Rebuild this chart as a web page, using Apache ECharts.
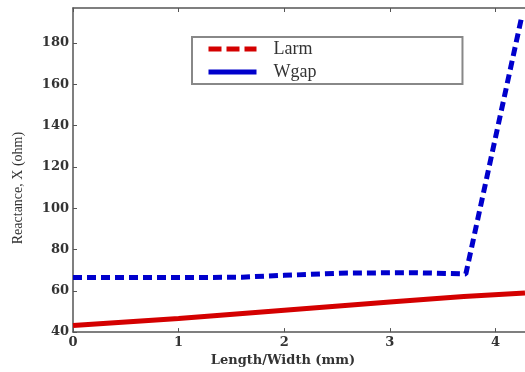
<!DOCTYPE html>
<html>
<head>
<meta charset="utf-8">
<script src="https://cdn.jsdelivr.net/npm/echarts@6/dist/echarts.min.js"></script>
<style>
  html, body { margin: 0; padding: 0; background: #fff; }
  #chart { width: 525px; height: 372px; }
</style>
</head>
<body>
<div id="chart"></div>
<script>
// Larm: red solid line, Wgap: blue dashed line  [length/width (mm), reactance (ohm)]
const larmData = [[0, 43.2], [1, 46.6], [2, 50.6], [3, 54.6], [3.7, 57.2], [4.28, 59]];
const wgapData = [[0, 66.4], [1, 66.4], [1.6, 66.6], [2, 67.5], [2.6, 68.6], [3.2, 68.8], [3.72, 68.2], [4.25, 193]];
const xTicks = [0, 1, 2, 3, 4];
const yTicks = [40, 60, 80, 100, 120, 140, 160, 180];

const chart = echarts.init(document.getElementById('chart'));
const serif = 'Liberation Serif';
const wideSerif = 'DejaVu Serif';
const axisColor = '#555';

const option = {
  animation: false,
  backgroundColor: '#fff',
  grid: { left: 73, right: 0, top: 8, bottom: 36 },
  legend: {
    orient: 'vertical',
    left: 192,
    top: 37,
    itemWidth: 48,
    itemHeight: 12,
    itemGap: 5,
    padding: [3, 146, 3, 14],
    borderColor: '#888',
    borderWidth: 2,
    backgroundColor: '#fff',
    textStyle: { fontFamily: serif, fontSize: 18, color: '#333', padding: [0, 0, 0, 12] },
    data: [
      { name: 'Larm', lineStyle: { color: '#d40000', type: [13, 5], width: 5 }, itemStyle: { opacity: 0 } },
      { name: 'Wgap', lineStyle: { color: '#0000cc', type: 'solid', width: 5 }, itemStyle: { opacity: 0 } }
    ]
  },
  xAxis: [
    {
      type: 'value',
      min: 0,
      max: 4.28,
      interval: 1,
      name: 'Length/Width (mm)',
      nameLocation: 'middle',
      nameGap: 20,
      nameTextStyle: { fontFamily: wideSerif, fontSize: 13, fontWeight: 'bold', color: '#333', padding: [0, 32, 0, 0] },
      axisLine: { show: true, lineStyle: { color: axisColor, width: 1.5 } },
      axisTick: { show: true, inside: true, length: 4, lineStyle: { color: axisColor } },
      axisLabel: {
        fontFamily: wideSerif, fontSize: 13, fontWeight: 'bold', color: '#333', margin: 4,
        showMaxLabel: false,
        formatter: v => (xTicks.includes(v) ? String(v) : '')
      },
      splitLine: { show: false }
    },
    {
      type: 'value',
      position: 'top',
      min: 0,
      max: 4.28,
      interval: 1,
      axisLine: { show: true, lineStyle: { color: axisColor, width: 1.5 } },
      axisTick: { show: true, inside: true, length: 4, lineStyle: { color: axisColor } },
      axisLabel: { show: false },
      splitLine: { show: false }
    }
  ],
  yAxis: {
    type: 'value',
    min: 40,
    max: 197,
    interval: 20,
    name: 'Reactance, X (ohm)',
    nameLocation: 'middle',
    nameGap: 48,
    nameTextStyle: { fontFamily: serif, fontSize: 14, color: '#333', padding: [0, 36, 0, 0] },
    axisLine: { show: true, lineStyle: { color: axisColor, width: 1.5 } },
    axisTick: { show: true, inside: true, length: 4, lineStyle: { color: axisColor } },
    axisLabel: {
      fontFamily: wideSerif, fontSize: 13, fontWeight: 'bold', color: '#333', margin: 4,
      showMaxLabel: false,
      formatter: v => (yTicks.includes(v) ? String(v) : '')
    },
    splitLine: { show: false }
  },
  series: [
    {
      name: 'Larm',
      type: 'line',
      data: larmData,
      symbol: 'none',
      lineStyle: { color: '#d40000', width: 5, type: 'solid' },
      itemStyle: { color: '#d40000' }
    },
    {
      name: 'Wgap',
      type: 'line',
      data: wgapData,
      symbol: 'none',
      lineStyle: { color: '#0000cc', width: 5, type: [9, 5] },
      itemStyle: { color: '#0000cc' }
    }
  ]
};

chart.setOption(option);
</script>
</body>
</html>
